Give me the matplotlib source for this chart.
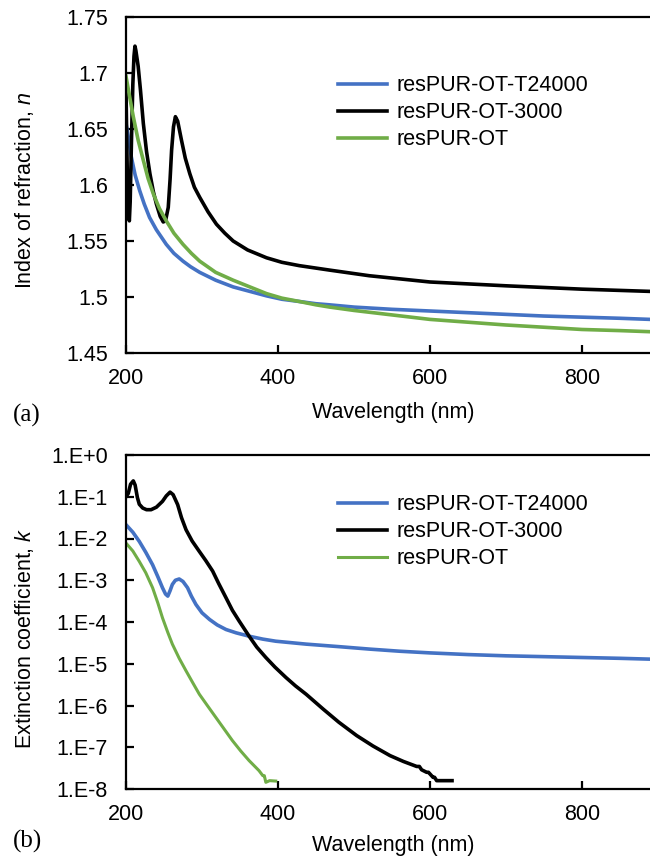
import numpy as np
import matplotlib
matplotlib.use('Agg')
import matplotlib.pyplot as plt
from matplotlib.ticker import FixedLocator, FuncFormatter

plt.rcParams['font.family'] = ['Liberation Sans', 'DejaVu Sans']
plt.rcParams['mathtext.fontset'] = 'custom'
plt.rcParams['mathtext.it'] = 'Liberation Sans:italic'
plt.rcParams['mathtext.rm'] = 'Liberation Sans'

labels = ['resPUR-OT-T24000', 'resPUR-OT-3000', 'resPUR-OT']
colors = ['#4472C4', '#000000', '#70AD47']

# (a) index of refraction n
wl_n_t24 = [200, 203, 207, 212, 218, 224, 231, 240, 253, 263, 275, 285, 297, 318, 341, 363,
            385, 405, 428, 450, 468, 500, 550, 600, 650, 700, 750, 800, 850, 890]
n_t24 = [1.655, 1.643, 1.625, 1.609, 1.595, 1.583, 1.571, 1.560, 1.547, 1.539, 1.532, 1.527,
         1.522, 1.515, 1.509, 1.505, 1.501, 1.498, 1.496, 1.494, 1.493, 1.491, 1.489, 1.4875,
         1.486, 1.4845, 1.483, 1.482, 1.481, 1.480]

wl_n_3000 = [200, 201, 202, 203, 204.4, 205.5, 207.4, 209, 210.5, 211.8, 213, 216, 219, 222.8,
             227, 231.5, 236, 240, 245, 249, 252, 255.6, 258, 260, 262.5, 265, 268, 273, 278,
             284, 290, 297, 308, 319, 330, 341, 360, 385, 405, 428, 468, 520, 600, 700, 800,
             890]
n_3000 = [1.685, 1.64, 1.598, 1.575, 1.568, 1.585, 1.646, 1.69, 1.715, 1.724, 1.720, 1.706,
          1.685, 1.655, 1.630, 1.610, 1.594, 1.583, 1.572, 1.567, 1.568, 1.580, 1.605, 1.631,
          1.652, 1.661, 1.657, 1.640, 1.624, 1.610, 1.598, 1.589, 1.576, 1.565, 1.557, 1.550,
          1.542, 1.535, 1.531, 1.528, 1.524, 1.519, 1.5134, 1.510, 1.507, 1.505]

wl_n_ot = [200, 205, 209.6, 216, 222.8, 229, 236, 244, 253, 263, 275, 286, 297, 318, 341, 363,
           385, 405, 428, 450, 468, 500, 550, 600, 650, 700, 750, 800, 850, 890]
n_ot = [1.697, 1.678, 1.661, 1.640, 1.622, 1.606, 1.592, 1.579, 1.568, 1.557, 1.547, 1.539,
        1.532, 1.522, 1.515, 1.509, 1.503, 1.499, 1.496, 1.493, 1.491, 1.488, 1.484, 1.480,
        1.4775, 1.475, 1.473, 1.471, 1.470, 1.469]

# (b) extinction coefficient k, as log10(k)
wl_k_t24 = [200, 209, 217.5, 226, 235, 242, 248, 252, 255, 258, 261, 265, 270, 275, 281, 286,
            292, 300, 310, 320, 331.6, 345, 362, 380, 397, 437, 480, 521, 560, 600, 650, 700,
            750, 800, 850, 890]
logk_t24 = [-1.67, -1.85, -2.07, -2.33, -2.63, -2.92, -3.18, -3.33, -3.38, -3.25, -3.10, -3.00,
            -2.97, -3.03, -3.18, -3.38, -3.58, -3.78, -3.94, -4.07, -4.18, -4.26, -4.34, -4.41,
            -4.46, -4.53, -4.59, -4.65, -4.70, -4.74, -4.78, -4.81, -4.83, -4.85, -4.87, -4.89]

wl_k_3000 = [200, 203, 206, 209.6, 212, 215, 217.5, 222, 227, 233, 240, 248, 253, 258, 262,
             268, 273, 279, 287, 296.5, 305, 314, 322, 331.6, 340, 349, 362, 372, 384, 396,
             410.5, 423, 437, 459.7, 480, 503.5, 525, 547.4, 565, 582.5, 586, 589, 595.6, 598,
             604, 606, 608.8, 629]
logk_3000 = [-1.0, -0.92, -0.7, -0.62, -0.72, -1.02, -1.18, -1.27, -1.31, -1.31, -1.25, -1.11,
             -0.98, -0.89, -0.95, -1.19, -1.5, -1.79, -2.06, -2.31, -2.53, -2.78, -3.08, -3.42,
             -3.72, -3.98, -4.34, -4.6, -4.85, -5.08, -5.33, -5.53, -5.73, -6.09, -6.40, -6.72,
             -6.97, -7.2, -7.34, -7.46, -7.46, -7.54, -7.6, -7.6, -7.72, -7.72, -7.8, -7.8]

wl_k_ot = [200, 209, 217.5, 226, 235, 242, 248, 255, 261, 270, 279, 288, 296.5, 307, 318, 329,
           340, 351, 362, 375, 380, 382, 384, 389, 397]
logk_ot = [-2.11, -2.3, -2.55, -2.82, -3.18, -3.55, -3.9, -4.25, -4.53, -4.87, -5.17, -5.46,
           -5.73, -6.0, -6.28, -6.56, -6.84, -7.09, -7.32, -7.56, -7.68, -7.68, -7.84, -7.80,
           -7.81]

fig = plt.figure(figsize=(6.5, 8.65), dpi=100)
W, H = 650, 865
ax1 = fig.add_axes([126 / W, 1 - 353 / H, 1 - 126 / W, 336 / H])
ax2 = fig.add_axes([126 / W, 1 - 789 / H, 1 - 126 / W, 334 / H])

lw = 2.6
ax1.plot(wl_n_t24, n_t24, color=colors[0], lw=lw, label=labels[0])
ax1.plot(wl_n_3000, n_3000, color=colors[1], lw=lw, label=labels[1])
ax1.plot(wl_n_ot, n_ot, color=colors[2], lw=lw, label=labels[2])

ax2.plot(wl_k_t24, 10 ** np.array(logk_t24), color=colors[0], lw=lw, label=labels[0])
ax2.plot(wl_k_3000, 10 ** np.array(logk_3000), color=colors[1], lw=lw, label=labels[1])
ax2.plot(wl_k_ot, 10 ** np.array(logk_ot), color=colors[2], lw=2.2, label=labels[2])

fs = 15.5
for ax in (ax1, ax2):
    ax.set_xlim(200, 889.5)
    ax.set_xticks([200, 400, 600, 800])
    ax.spines['right'].set_visible(False)
    for s in ('left', 'bottom', 'top'):
        ax.spines[s].set_linewidth(1.6)
    ax.tick_params(direction='in', length=6, width=1.6, labelsize=fs, right=False, top=False)
    ax.tick_params(axis='x', pad=11)
    ax.tick_params(axis='y', pad=13)
    ax.set_xlabel('Wavelength (nm)', fontsize=fs)
    ax.legend(loc='upper left', frameon=False, fontsize=fs, handlelength=2.25,
              handletextpad=0.45, labelspacing=0.27, borderpad=0, borderaxespad=0,
              bbox_to_anchor=(0.405, 0.826 if ax is ax1 else 0.882))

ax1.set_ylim(1.45, 1.75)
ax1.set_yticks([1.45, 1.5, 1.55, 1.6, 1.65, 1.7, 1.75])
ax1.yaxis.set_major_formatter(FuncFormatter(lambda v, p: f'{v:g}'))
ax1.set_ylabel('Index of refraction, $n$', fontsize=fs)
ax1.yaxis.set_label_coords(-0.172, 0.485)
ax1.xaxis.set_label_coords(0.51, -0.146)

ax2.set_yscale('log')
ax2.set_ylim(1e-8, 1)
ax2.yaxis.set_major_locator(FixedLocator([10.0 ** e for e in range(-8, 1)]))
ax2.yaxis.set_minor_locator(FixedLocator([]))
ax2.yaxis.set_major_formatter(FuncFormatter(
    lambda v, p: '1.E+0' if round(np.log10(v)) == 0 else f'1.E{int(round(np.log10(v)))}'))
ax2.set_ylabel('Extinction coefficient, $k$', fontsize=fs)
ax2.yaxis.set_label_coords(-0.172, 0.452)
ax2.xaxis.set_label_coords(0.51, -0.138)

fig.text(13 / W, 1 - 415 / H, '(a)', family='Liberation Serif', fontsize=18, va='center')
fig.text(13 / W, 1 - 841 / H, '(b)', family='Liberation Serif', fontsize=18, va='center')

fig.savefig('out.png', dpi=100)
